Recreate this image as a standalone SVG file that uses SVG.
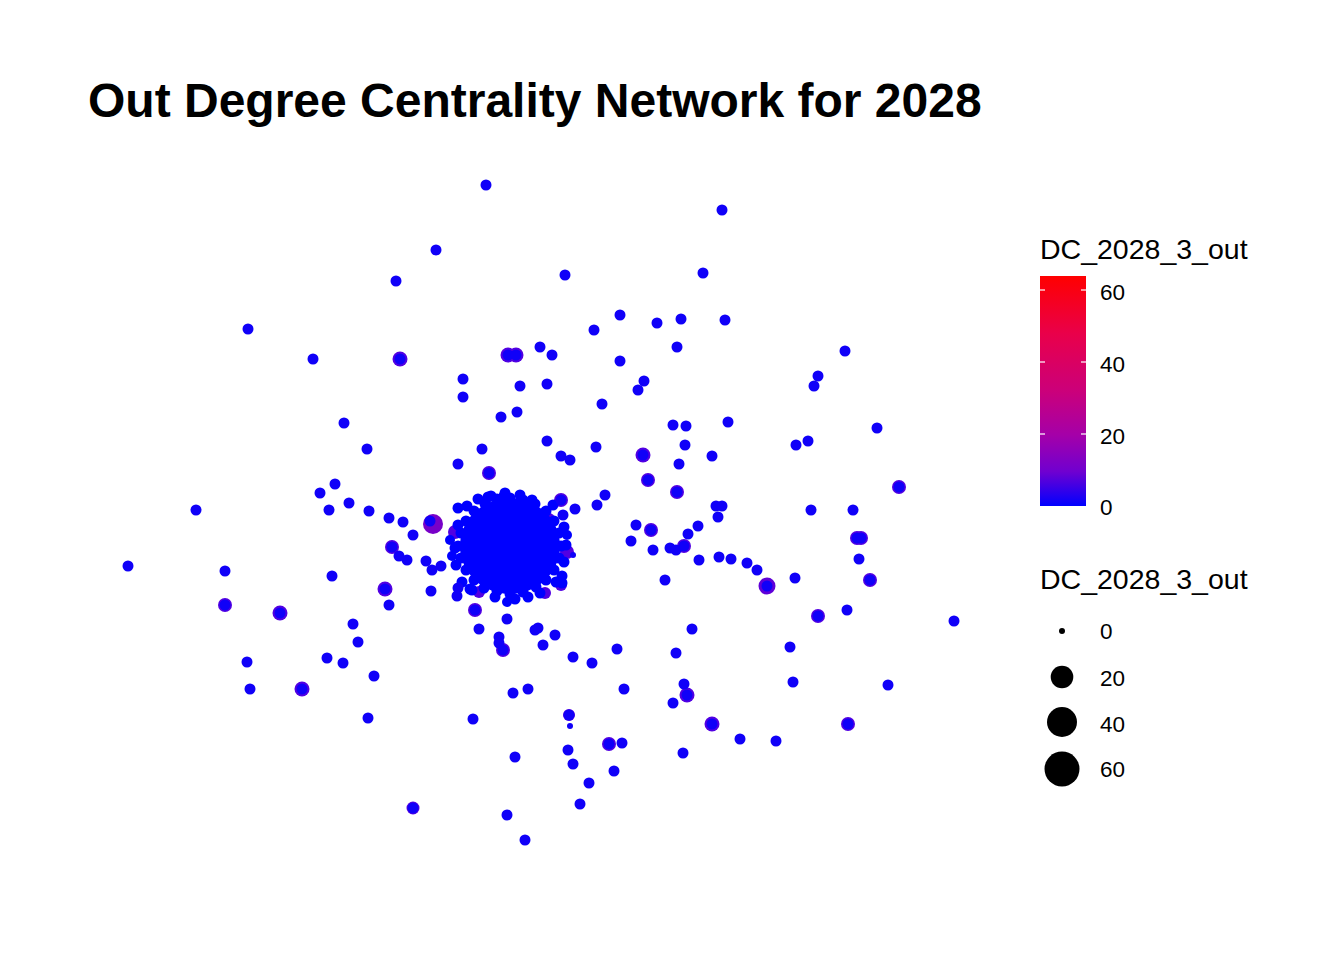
<svg xmlns="http://www.w3.org/2000/svg" width="1344" height="960" viewBox="0 0 1344 960">
<style>
.d{fill:#1000F8}
.h{fill:#5200E2}
.b{fill:#0000FF}
.t{font-family:"Liberation Sans",Arial,sans-serif;fill:#000}
.tick{stroke:#fff;stroke-width:1.2}
</style>
<defs>
<linearGradient id="cg" x1="0" y1="0" x2="0" y2="1">
<stop offset="0" stop-color="#FF0000"/>
<stop offset="0.25" stop-color="#E9004A"/>
<stop offset="0.5" stop-color="#CB007A"/>
<stop offset="0.69" stop-color="#A500A8"/>
<stop offset="0.85" stop-color="#7000D0"/>
<stop offset="1" stop-color="#0000FF"/>
</linearGradient>
</defs>
<rect width="1344" height="960" fill="#fff"/>
<text id="title" class="t" x="88" y="117" font-size="48" font-weight="bold">Out Degree Centrality Network for 2028</text>

<g id="halos">
<circle class="h" cx="400" cy="359" r="7.5"/>
<circle class="h" cx="508" cy="355" r="7.5"/><circle class="h" cx="516" cy="355" r="7.5"/>
<circle class="h" cx="643" cy="455" r="7.5"/>
<circle class="h" cx="489" cy="473" r="7"/>
<circle fill="#7800C8" cx="433" cy="524" r="10"/>
<circle class="h" cx="392" cy="547" r="7"/>
<circle class="h" cx="385" cy="589" r="7.5"/>
<circle class="h" cx="225" cy="605" r="7"/>
<circle class="h" cx="280" cy="613" r="7.5"/>
<circle class="h" cx="475" cy="610" r="7"/>
<circle class="h" cx="503" cy="650" r="7"/>
<circle class="h" cx="302" cy="689" r="7.5"/>
<circle class="h" cx="413" cy="808" r="6.5"/>
<circle class="h" cx="648" cy="480" r="7"/>
<circle class="h" cx="677" cy="492" r="7"/>
<circle class="h" cx="899" cy="487" r="7"/>
<circle class="h" cx="561" cy="500" r="7"/>
<circle class="h" cx="651" cy="530" r="7"/>
<circle class="h" cx="684" cy="546" r="7"/>
<circle class="h" cx="857" cy="538" r="7"/><circle class="h" cx="861" cy="538" r="7"/>
<circle class="h" cx="870" cy="580" r="7"/>
<circle fill="#6000D8" cx="767" cy="586" r="8.5"/>
<circle class="h" cx="818" cy="616" r="7"/>
<circle class="h" cx="687" cy="695" r="7.5"/>
<circle class="h" cx="569" cy="715" r="6"/>
<circle class="h" cx="712" cy="724" r="7.5"/>
<circle class="h" cx="848" cy="724" r="7"/>
<circle class="h" cx="609" cy="744" r="7"/>
<circle class="h" cx="567" cy="552" r="7"/>
</g>

<g id="cluster">
<circle class="h" cx="455" cy="532" r="7"/>
<circle class="h" cx="549" cy="519" r="6"/>
<circle class="h" cx="561" cy="585" r="6"/>
<circle class="h" cx="479" cy="592" r="6"/>
<circle class="h" cx="545" cy="593" r="6"/>
<ellipse class="b" cx="510" cy="546" rx="50" ry="48"/>
<circle class="b" cx="561" cy="546" r="5.5"/><circle class="b" cx="559" cy="558" r="5.5"/><circle class="b" cx="554" cy="570" r="5.5"/>
<circle class="b" cx="546" cy="580" r="5.5"/><circle class="b" cx="536" cy="587" r="5.5"/><circle class="b" cx="523" cy="592" r="5.5"/>
<circle class="b" cx="510" cy="594" r="5.5"/><circle class="b" cx="497" cy="591" r="5.5"/><circle class="b" cx="484" cy="588" r="5.5"/>
<circle class="b" cx="474" cy="580" r="5.5"/><circle class="b" cx="466" cy="570" r="5.5"/><circle class="b" cx="461" cy="558" r="5.5"/>
<circle class="b" cx="458" cy="546" r="5.5"/><circle class="b" cx="461" cy="533" r="5.5"/><circle class="b" cx="466" cy="521" r="5.5"/>
<circle class="b" cx="474" cy="511" r="5.5"/><circle class="b" cx="485" cy="504" r="5.5"/><circle class="b" cx="497" cy="499" r="5.5"/>
<circle class="b" cx="510" cy="498" r="5.5"/><circle class="b" cx="523" cy="500" r="5.5"/><circle class="b" cx="535" cy="504" r="5.5"/>
<circle class="b" cx="546" cy="511" r="5.5"/><circle class="b" cx="554" cy="521" r="5.5"/><circle class="b" cx="559" cy="533" r="5.5"/>
<circle class="b" cx="505" cy="493" r="5.5"/><circle class="b" cx="520" cy="495" r="5.5"/><circle class="b" cx="491" cy="496" r="5.5"/>
<circle class="b" cx="553" cy="505" r="5.5"/><circle class="b" cx="564" cy="527" r="5.5"/><circle class="b" cx="566" cy="545" r="5.5"/>
<circle class="b" cx="564" cy="562" r="5.5"/><circle class="b" cx="556" cy="582" r="5.5"/><circle class="b" cx="540" cy="593" r="5.5"/>
<circle class="b" cx="528" cy="597" r="5.5"/><circle class="b" cx="515" cy="599" r="5.5"/><circle class="b" cx="495" cy="597" r="5.5"/>
<circle class="b" cx="470" cy="589" r="5.5"/><circle class="b" cx="462" cy="582" r="5.5"/><circle class="b" cx="456" cy="565" r="5.5"/>
<circle class="b" cx="455" cy="548" r="5.5"/><circle class="b" cx="458" cy="525" r="5.5"/><circle class="b" cx="467" cy="506" r="5.5"/>
<circle class="b" cx="478" cy="499" r="5.5"/><circle class="b" cx="562" cy="576" r="5.5"/><circle class="b" cx="458" cy="508" r="5.5"/>
<circle class="b" cx="488" cy="497" r="5.5"/><circle class="b" cx="504" cy="496" r="5.5"/><circle class="b" cx="562" cy="583" r="5.5"/>
<circle class="b" cx="472" cy="590" r="5.5"/><circle class="b" cx="507" cy="602" r="5"/><circle class="b" cx="450" cy="540" r="5"/>
<circle class="b" cx="532" cy="500" r="5.5"/><circle class="b" cx="567" cy="535" r="5"/><circle class="b" cx="452" cy="556" r="5"/>
</g>

<g id="nodes">
<circle id="n1" class="d" cx="486" cy="185" r="5.5"/>
<circle id="n2" class="d" cx="436" cy="250" r="5.5"/>
<circle id="n3" class="d" cx="396" cy="281" r="5.5"/>
<circle id="n4" class="d" cx="248" cy="329" r="5.5"/>
<circle id="n5" class="d" cx="313" cy="359" r="5.5"/>
<circle id="n6" class="d" cx="400" cy="359" r="5.5"/>
<circle id="n7" class="d" cx="508" cy="355" r="5.5"/>
<circle id="n8" class="d" cx="516" cy="355" r="5.5"/>
<circle id="n9" class="d" cx="540" cy="347" r="5.5"/>
<circle id="n10" class="d" cx="552" cy="355" r="5.5"/>
<circle id="n11" class="d" cx="463" cy="379" r="5.5"/>
<circle id="n12" class="d" cx="463" cy="397" r="5.5"/>
<circle id="n13" class="d" cx="520" cy="386" r="5.5"/>
<circle id="n14" class="d" cx="547" cy="384" r="5.5"/>
<circle id="n15" class="d" cx="501" cy="417" r="5.5"/>
<circle id="n16" class="d" cx="517" cy="412" r="5.5"/>
<circle id="n17" class="d" cx="344" cy="423" r="5.5"/>
<circle id="n18" class="d" cx="367" cy="449" r="5.5"/>
<circle id="n19" class="d" cx="482" cy="449" r="5.5"/>
<circle id="n20" class="d" cx="547" cy="441" r="5.5"/>
<circle id="n21" class="d" cx="722" cy="210" r="5.5"/>
<circle id="n22" class="d" cx="565" cy="275" r="5.5"/>
<circle id="n23" class="d" cx="703" cy="273" r="5.5"/>
<circle id="n24" class="d" cx="620" cy="315" r="5.5"/>
<circle id="n25" class="d" cx="594" cy="330" r="5.5"/>
<circle id="n26" class="d" cx="657" cy="323" r="5.5"/>
<circle id="n27" class="d" cx="681" cy="319" r="5.5"/>
<circle id="n28" class="d" cx="725" cy="320" r="5.5"/>
<circle id="n29" class="d" cx="677" cy="347" r="5.5"/>
<circle id="n30" class="d" cx="620" cy="361" r="5.5"/>
<circle id="n31" class="d" cx="845" cy="351" r="5.5"/>
<circle id="n32" class="d" cx="818" cy="376" r="5.5"/>
<circle id="n33" class="d" cx="814" cy="386" r="5.5"/>
<circle id="n34" class="d" cx="644" cy="381" r="5.5"/>
<circle id="n35" class="d" cx="638" cy="390" r="5.5"/>
<circle id="n36" class="d" cx="602" cy="404" r="5.5"/>
<circle id="n37" class="d" cx="673" cy="425" r="5.5"/>
<circle id="n38" class="d" cx="686" cy="426" r="5.5"/>
<circle id="n39" class="d" cx="728" cy="422" r="5.5"/>
<circle id="n40" class="d" cx="877" cy="428" r="5.5"/>
<circle id="n41" class="d" cx="596" cy="447" r="5.5"/>
<circle id="n42" class="d" cx="685" cy="445" r="5.5"/>
<circle id="n43" class="d" cx="796" cy="445" r="5.5"/>
<circle id="n44" class="d" cx="808" cy="441" r="5.5"/>
<circle id="n45" class="d" cx="561" cy="456" r="5.5"/>
<circle id="n46" class="d" cx="570" cy="460" r="5.5"/>
<circle id="n47" class="d" cx="643" cy="455" r="5.5"/>
<circle id="n48" class="d" cx="712" cy="456" r="5.5"/>
<circle id="n49" class="d" cx="458" cy="464" r="5.5"/>
<circle id="n50" class="d" cx="489" cy="473" r="5.5"/>
<circle id="n51" class="d" cx="335" cy="484" r="5.5"/>
<circle id="n52" class="d" cx="320" cy="493" r="5.5"/>
<circle id="n53" class="d" cx="349" cy="503" r="5.5"/>
<circle id="n54" class="d" cx="329" cy="510" r="5.5"/>
<circle id="n55" class="d" cx="369" cy="511" r="5.5"/>
<circle id="n56" class="d" cx="196" cy="510" r="5.5"/>
<circle id="n57" class="d" cx="389" cy="518" r="5.5"/>
<circle id="n58" class="d" cx="403" cy="522" r="5.5"/>
<circle id="n59" class="d" cx="430" cy="521" r="5.5"/>
<circle id="n60" class="d" cx="413" cy="535" r="5.5"/>
<circle id="n61" class="d" cx="392" cy="547" r="5.5"/>
<circle id="n62" class="d" cx="399" cy="556" r="5.5"/>
<circle id="n63" class="d" cx="407" cy="560" r="5.5"/>
<circle id="n64" class="d" cx="426" cy="561" r="5.5"/>
<circle id="n65" class="d" cx="432" cy="570" r="5.5"/>
<circle id="n66" class="d" cx="441" cy="566" r="5.5"/>
<circle id="n67" class="d" cx="128" cy="566" r="5.5"/>
<circle id="n68" class="d" cx="225" cy="571" r="5.5"/>
<circle id="n69" class="d" cx="332" cy="576" r="5.5"/>
<circle id="n70" class="d" cx="385" cy="589" r="5.5"/>
<circle id="n71" class="d" cx="431" cy="591" r="5.5"/>
<circle id="n72" class="d" cx="458" cy="588" r="5.5"/>
<circle id="n73" class="d" cx="457" cy="596" r="5.5"/>
<circle id="n74" class="d" cx="389" cy="605" r="5.5"/>
<circle id="n75" class="d" cx="225" cy="605" r="5.5"/>
<circle id="n76" class="d" cx="280" cy="613" r="5.5"/>
<circle id="n77" class="d" cx="475" cy="610" r="5.5"/>
<circle id="n78" class="d" cx="507" cy="619" r="5.5"/>
<circle id="n79" class="d" cx="479" cy="629" r="5.5"/>
<circle id="n80" class="d" cx="499" cy="637" r="5.5"/>
<circle id="n81" class="d" cx="499" cy="643" r="5.5"/>
<circle id="n82" class="d" cx="503" cy="650" r="5.5"/>
<circle id="n83" class="d" cx="538" cy="628" r="5.5"/>
<circle id="n84" class="d" cx="535" cy="630" r="5.5"/>
<circle id="n85" class="d" cx="543" cy="645" r="5.5"/>
<circle id="n86" class="d" cx="353" cy="624" r="5.5"/>
<circle id="n87" class="d" cx="358" cy="642" r="5.5"/>
<circle id="n88" class="d" cx="247" cy="662" r="5.5"/>
<circle id="n89" class="d" cx="327" cy="658" r="5.5"/>
<circle id="n90" class="d" cx="343" cy="663" r="5.5"/>
<circle id="n91" class="d" cx="374" cy="676" r="5.5"/>
<circle id="n92" class="d" cx="250" cy="689" r="5.5"/>
<circle id="n93" class="d" cx="302" cy="689" r="5.5"/>
<circle id="n94" class="d" cx="513" cy="693" r="5.5"/>
<circle id="n95" class="d" cx="528" cy="689" r="5.5"/>
<circle id="n96" class="d" cx="368" cy="718" r="5.5"/>
<circle id="n97" class="d" cx="473" cy="719" r="5.5"/>
<circle id="n98" class="d" cx="515" cy="757" r="5.5"/>
<circle id="n99" class="d" cx="413" cy="808" r="5.5"/>
<circle id="n100" class="d" cx="507" cy="815" r="5.5"/>
<circle id="n101" class="d" cx="525" cy="840" r="5.5"/>
<circle id="n102" class="d" cx="679" cy="464" r="5.5"/>
<circle id="n103" class="d" cx="648" cy="480" r="5.5"/>
<circle id="n104" class="d" cx="677" cy="492" r="5.5"/>
<circle id="n105" class="d" cx="899" cy="487" r="5.5"/>
<circle id="n106" class="d" cx="561" cy="500" r="5.5"/>
<circle id="n107" class="d" cx="575" cy="509" r="5.5"/>
<circle id="n108" class="d" cx="563" cy="515" r="5.5"/>
<circle id="n109" class="d" cx="597" cy="505" r="5.5"/>
<circle id="n110" class="d" cx="605" cy="495" r="5.5"/>
<circle id="n111" class="d" cx="636" cy="525" r="5.5"/>
<circle id="n112" class="d" cx="651" cy="530" r="5.5"/>
<circle id="n113" class="d" cx="631" cy="541" r="5.5"/>
<circle id="n114" class="d" cx="653" cy="550" r="5.5"/>
<circle id="n115" class="d" cx="670" cy="548" r="5.5"/>
<circle id="n116" class="d" cx="676" cy="550" r="5.5"/>
<circle id="n117" class="d" cx="684" cy="546" r="5.5"/>
<circle id="n118" class="d" cx="688" cy="534" r="5.5"/>
<circle id="n119" class="d" cx="698" cy="526" r="5.5"/>
<circle id="n120" class="d" cx="716" cy="506" r="5.5"/>
<circle id="n121" class="d" cx="722" cy="506" r="5.5"/>
<circle id="n122" class="d" cx="718" cy="517" r="5.5"/>
<circle id="n123" class="d" cx="811" cy="510" r="5.5"/>
<circle id="n124" class="d" cx="853" cy="510" r="5.5"/>
<circle id="n125" class="d" cx="857" cy="538" r="5.5"/>
<circle id="n126" class="d" cx="861" cy="538" r="5.5"/>
<circle id="n127" class="d" cx="859" cy="559" r="5.5"/>
<circle id="n128" class="d" cx="870" cy="580" r="5.5"/>
<circle id="n129" class="d" cx="665" cy="580" r="5.5"/>
<circle id="n130" class="d" cx="699" cy="560" r="5.5"/>
<circle id="n131" class="d" cx="719" cy="557" r="5.5"/>
<circle id="n132" class="d" cx="731" cy="559" r="5.5"/>
<circle id="n133" class="d" cx="747" cy="563" r="5.5"/>
<circle id="n134" class="d" cx="757" cy="570" r="5.5"/>
<circle id="n135" class="d" cx="767" cy="586" r="5.5"/>
<circle id="n136" class="d" cx="795" cy="578" r="5.5"/>
<circle id="n137" class="d" cx="818" cy="616" r="5.5"/>
<circle id="n138" class="d" cx="847" cy="610" r="5.5"/>
<circle id="n139" class="d" cx="954" cy="621" r="5.5"/>
<circle id="n140" class="d" cx="555" cy="635" r="5.5"/>
<circle id="n141" class="d" cx="573" cy="657" r="5.5"/>
<circle id="n142" class="d" cx="592" cy="663" r="5.5"/>
<circle id="n143" class="d" cx="617" cy="649" r="5.5"/>
<circle id="n144" class="d" cx="692" cy="629" r="5.5"/>
<circle id="n145" class="d" cx="676" cy="653" r="5.5"/>
<circle id="n146" class="d" cx="790" cy="647" r="5.5"/>
<circle id="n147" class="d" cx="793" cy="682" r="5.5"/>
<circle id="n148" class="d" cx="624" cy="689" r="5.5"/>
<circle id="n149" class="d" cx="684" cy="684" r="5.5"/>
<circle id="n150" class="d" cx="687" cy="695" r="5.5"/>
<circle id="n151" class="d" cx="673" cy="703" r="5.5"/>
<circle id="n152" class="d" cx="888" cy="685" r="5.5"/>
<circle id="n153" class="d" cx="569" cy="715" r="5.5"/>
<circle id="n154" class="d" cx="570" cy="726" r="3"/>
<circle id="n155" class="d" cx="712" cy="724" r="5.5"/>
<circle id="n156" class="d" cx="848" cy="724" r="5.5"/>
<circle id="n157" class="d" cx="740" cy="739" r="5.5"/>
<circle id="n158" class="d" cx="776" cy="741" r="5.5"/>
<circle id="n159" class="d" cx="568" cy="750" r="5.5"/>
<circle id="n160" class="d" cx="609" cy="744" r="5.5"/>
<circle id="n161" class="d" cx="622" cy="743" r="5.5"/>
<circle id="n162" class="d" cx="683" cy="753" r="5.5"/>
<circle id="n163" class="d" cx="573" cy="764" r="5.5"/>
<circle id="n164" class="d" cx="614" cy="771" r="5.5"/>
<circle id="n165" class="d" cx="589" cy="783" r="5.5"/>
<circle id="n166" class="d" cx="580" cy="804" r="5.5"/>
<circle id="n167" class="d" cx="573" cy="555" r="3"/>
</g>

<g id="legend-colour">
<text class="t" x="1040" y="259" font-size="28.5">DC_2028_3_out</text>
<rect x="1040" y="276" width="46" height="230" fill="url(#cg)"/>
<line class="tick" x1="1040" y1="290" x2="1045" y2="290"/><line class="tick" x1="1081" y1="290" x2="1086" y2="290"/>
<line class="tick" x1="1040" y1="362" x2="1045" y2="362"/><line class="tick" x1="1081" y1="362" x2="1086" y2="362"/>
<line class="tick" x1="1040" y1="434" x2="1045" y2="434"/><line class="tick" x1="1081" y1="434" x2="1086" y2="434"/>
<text class="t" x="1100" y="300" font-size="22.5">60</text>
<text class="t" x="1100" y="372" font-size="22.5">40</text>
<text class="t" x="1100" y="444" font-size="22.5">20</text>
<text class="t" x="1100" y="515" font-size="22.5">0</text>
</g>

<g id="legend-size">
<text class="t" x="1040" y="589" font-size="28.5">DC_2028_3_out</text>
<circle cx="1062" cy="631" r="3" fill="#000"/>
<circle cx="1062" cy="677" r="11.3" fill="#000"/>
<circle cx="1062" cy="722" r="15" fill="#000"/>
<circle cx="1062" cy="769" r="17.5" fill="#000"/>
<text class="t" x="1100" y="639" font-size="22.5">0</text>
<text class="t" x="1100" y="686" font-size="22.5">20</text>
<text class="t" x="1100" y="732" font-size="22.5">40</text>
<text class="t" x="1100" y="777" font-size="22.5">60</text>
</g>
</svg>
